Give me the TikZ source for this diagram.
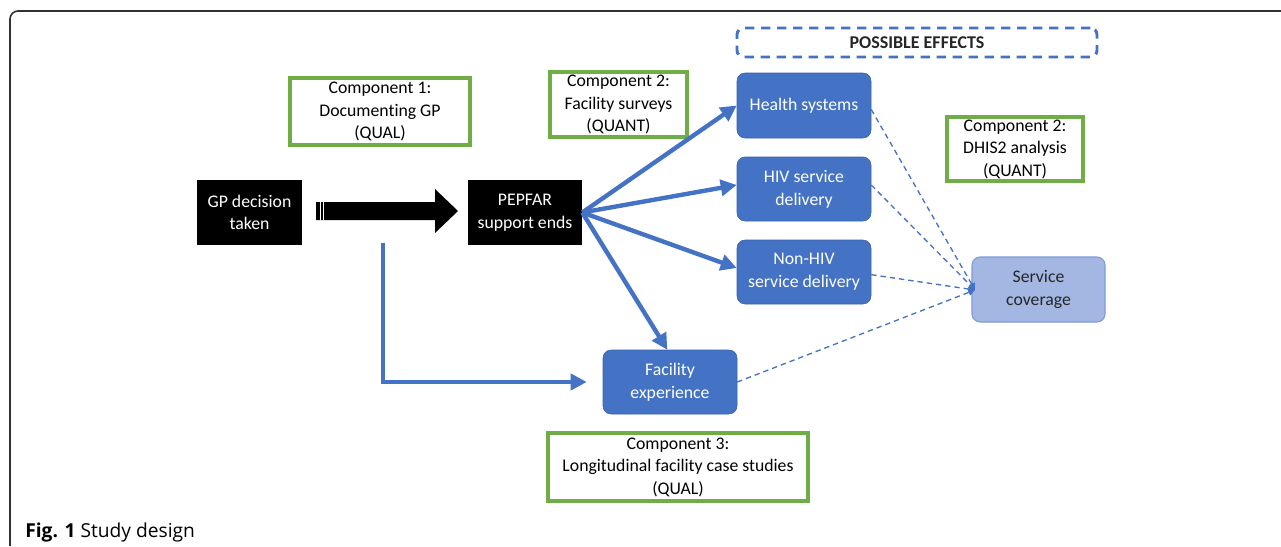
\documentclass[tikz,border=0pt]{standalone}
\usepackage{fontspec}
\setmainfont{Carlito}[Ligatures=NoCommon]
\newfontfamily\capfont{Open Sans}
\usetikzlibrary{arrows.meta,positioning}
\definecolor{oblue}{HTML}{4472C4}
\definecolor{ogreen}{HTML}{70AD47}
\definecolor{scfill}{HTML}{A4B7E2}
\definecolor{scedge}{HTML}{7C9CD7}
\definecolor{framegray}{HTML}{333333}
\tikzset{
  txt/.style={font=\fontsize{13.3}{17}\selectfont},
  blackbox/.style={fill=black, text=white, inner sep=0pt, align=center, txt},
  greenbox/.style={draw=ogreen, line width=2.6pt, fill=white, inner sep=0pt, align=center, txt, text depth=1.5pt},
  bluebox/.style={fill=oblue, draw=oblue!85!black, line width=0.4pt, rounded corners=6pt, text=white, inner sep=0pt, align=center, txt, minimum width=100.5pt, minimum height=48pt},
  scbox/.style={fill=scfill, draw=scedge, line width=0.8pt, rounded corners=6pt, text=black!85, inner sep=0pt, align=center, txt},
  bluearrow/.style={draw=oblue, line width=3.3pt, -{Triangle[length=12pt,width=12pt]}},
  dasharrow/.style={draw=oblue, line width=1pt, dash pattern=on 4pt off 3pt, -{Triangle[length=5pt,width=5pt]}},
}
\begin{document}
\begin{tikzpicture}[x=0.75pt,y=-0.75pt]
\useasboundingbox (0,0) rectangle (1281,546);
% frame
\draw[framegray, line width=1.2pt, rounded corners=6pt] (10,546) -- (10,11) -- (1281,11);
% black boxes
\node[blackbox, minimum width=78.75pt, minimum height=48.75pt] (gp) at (249.5,212.5) {GP decision\\taken};
\node[blackbox, minimum width=85.5pt, minimum height=48.75pt] (pep) at (525,212.5) {PEPFAR\\support ends};
% big black arrow
\fill[black] (316,202) -- (435,202) -- (435,189) -- (458,211) -- (435,233) -- (435,220) -- (316,220) -- cycle;
\draw[white, line width=0.5pt] (320,202) -- (320,220) (323.5,202) -- (323.5,220);
% green component boxes
\node[greenbox, minimum width=135pt, minimum height=50.25pt] (c1) at (380,111.5) {Component 1:\\Documenting GP\\(QUAL)};
\node[greenbox, minimum width=102.75pt, minimum height=48.75pt] (c2) at (618.5,104.5) {Component 2:\\Facility surveys\\(QUANT)};
\node[greenbox, minimum width=102pt, minimum height=48pt] (c2b) at (1015,149) {Component 2:\\DHIS2 analysis\\(QUANT)};
\node[greenbox, minimum width=195pt, minimum height=51pt] (c3) at (678,467) {Component 3:\\Longitudinal facility case studies\\(QUAL)};
% possible effects
\node[draw=oblue, line width=2.2pt, dash pattern=on 7pt off 5pt, rounded corners=5pt, inner sep=0pt, minimum width=270pt, minimum height=21.75pt, font=\bfseries\fontsize{13.5}{15}\selectfont, text=black!85] (pe) at (917,42.5) {POSSIBLE EFFECTS};
% blue boxes
\node[bluebox, minimum height=48.75pt] (hs) at (804,105.5) {Health systems};
\node[bluebox] (hiv) at (804,189) {HIV service\\delivery};
\node[bluebox] (nhiv) at (804,272) {Non-HIV\\service delivery};
\node[bluebox] (fac) at (670,382) {Facility\\experience};
\node[scbox, minimum width=99.75pt, minimum height=48.75pt] (sc) at (1038.5,289.5) {Service\\coverage};
% arrows from PEPFAR
\draw[bluearrow] (pep.east) -- (hs.west);
\draw[bluearrow] (pep.east) -- ([yshift=3pt]hiv.west);
\draw[bluearrow] (pep.east) -- ([yshift=3pt]nhiv.west);
\draw[bluearrow] (pep.east) -- ([xshift=-2pt]fac.north);
% L-shaped arrow
\coordinate (lstart) at (383,243);
\draw[draw=oblue, line width=3.3pt, -{Triangle[length=12pt,width=12pt]}, shorten >=12pt] (lstart) |- (fac.west);
% dashed to service coverage
\coordinate (scin) at (975,290);
\draw[dasharrow] ([yshift=-3pt]hs.east) -- (scin);
\draw[dasharrow] ([yshift=3pt]hiv.east) -- (scin);
\draw[dasharrow] ([yshift=-2pt]nhiv.east) -- (scin);
\draw[dasharrow] (fac.east) -- (scin);
% caption
\node[anchor=base west, inner sep=0pt, font=\capfont\fontsize{14.4}{17}\selectfont] (cap) at (25,537) {\textbf{Fig. 1} Study design};
\end{tikzpicture}
\end{document}
